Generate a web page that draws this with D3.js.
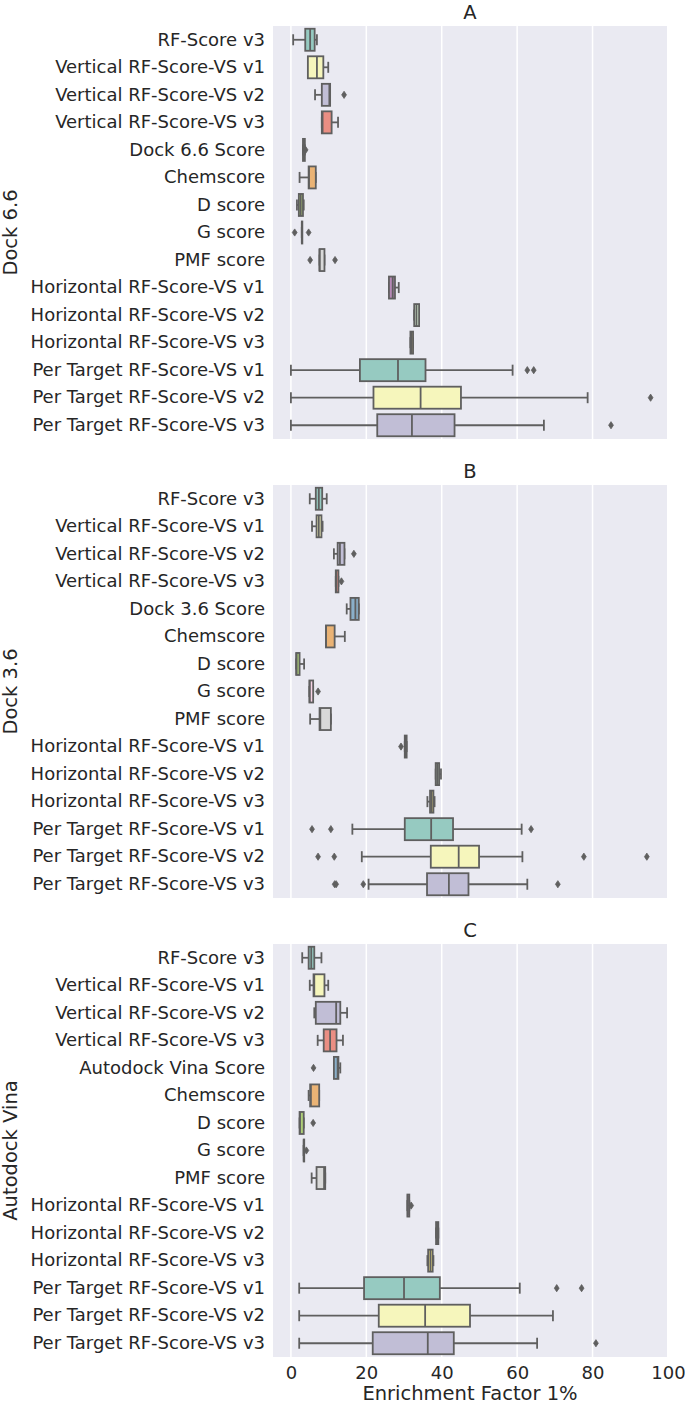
<!DOCTYPE html>
<html lang="en">
<head>
<meta charset="UTF-8">
<title>Enrichment Factor 1%</title>
<style>
  body { margin: 0; background: #fff; }
  svg text { font-family: "DejaVu Sans", sans-serif; fill: #262626; }
</style>
</head>
<body>
<svg id="chart" width="685" height="1405"></svg>
<script src="https://d3js.org/d3.v7.min.js"></script>
<script>
// row labels of each panel
const labelsA = ["RF-Score v3", "Vertical RF-Score-VS v1", "Vertical RF-Score-VS v2", "Vertical RF-Score-VS v3",
  "Dock 6.6 Score", "Chemscore", "D score", "G score", "PMF score",
  "Horizontal RF-Score-VS v1", "Horizontal RF-Score-VS v2", "Horizontal RF-Score-VS v3",
  "Per Target RF-Score-VS v1", "Per Target RF-Score-VS v2", "Per Target RF-Score-VS v3"];
const labelsB = labelsA.map(d => d == "Dock 6.6 Score" ? "Dock 3.6 Score" : d);
const labelsC = labelsA.map(d => d == "Dock 6.6 Score" ? "Autodock Vina Score" : d);

// [whisker low, q1, median, q3, whisker high]
const statsA = [
  [0.6, 3.8, 5.1, 6.3, 6.9], [4.5, 4.5, 6.9, 8.6, 9.9], [6.4, 8.2, 10.2, 10.4, 10.4], [8.2, 8.2, 8.4, 10.8, 12.5],
  [3.2, 3.2, 3.5, 3.7, 3.7], [2.3, 4.7, 4.8, 6.6, 6.6], [1.6, 2.1, 2.6, 3.2, 3.4], [2.9, 2.9, 2.9, 2.9, 2.9],
  [7.6, 7.6, 7.6, 8.9, 8.9], [26.0, 26.0, 27.0, 27.6, 28.6], [32.7, 32.7, 33.3, 34.0, 34.0], [31.7, 31.7, 32.0, 32.4, 32.4],
  [0, 18.3, 28.4, 35.7, 58.8], [0, 21.9, 34.4, 45.1, 78.7], [0, 22.9, 32.1, 43.4, 67.1]
];
const fliersA = [[], [], [14.1], [], [3.9], [], [], [1.0, 4.7], [5.1, 11.7], [], [], [], [62.7, 64.4], [95.4], [84.9]];

const statsB = [
  [5.0, 6.6, 7.4, 8.3, 9.5], [5.6, 6.8, 7.4, 8.1, 8.4], [11.4, 12.4, 13.0, 14.2, 14.2], [11.9, 11.9, 12.0, 12.6, 12.6],
  [14.8, 15.8, 17.1, 18.0, 18.0], [9.3, 9.3, 9.3, 11.6, 14.3], [1.4, 1.4, 1.5, 2.3, 3.5], [4.9, 4.9, 5.0, 5.9, 5.9],
  [5.1, 7.6, 7.8, 10.6, 10.6], [30.2, 30.2, 30.5, 30.7, 30.7], [38.4, 38.4, 38.8, 39.3, 39.8], [36.2, 36.9, 37.3, 37.8, 38.1],
  [16.3, 30.2, 37.2, 43.0, 61.2], [18.8, 37.1, 44.5, 49.9, 61.4], [20.6, 36.1, 41.9, 47.1, 62.7]
];
const fliersB = [[], [], [16.7], [13.4], [], [], [], [7.2], [], [29.2], [], [], [5.6, 10.6, 63.7], [7.2, 11.5, 77.7, 94.4], [11.6, 12.0, 19.2, 70.8]];

const statsC = [
  [3.0, 4.7, 5.4, 6.2, 8.1], [5.0, 6.0, 6.2, 8.9, 9.9], [6.2, 6.6, 12.0, 13.1, 14.9], [7.1, 8.7, 10.4, 12.1, 13.8],
  [11.4, 11.4, 12.4, 12.6, 13.1], [4.7, 5.1, 5.3, 7.5, 7.5], [2.3, 2.3, 2.4, 3.4, 3.4], [3.4, 3.4, 3.4, 3.4, 3.4],
  [5.5, 6.8, 8.8, 9.1, 9.1], [30.9, 30.9, 31.0, 31.4, 31.4], [38.5, 38.5, 38.8, 39.1, 39.1], [36.2, 36.4, 37.0, 37.6, 37.8],
  [2.2, 19.4, 30.0, 39.5, 60.7], [2.2, 23.3, 35.6, 47.5, 69.5], [2.2, 21.7, 36.3, 43.2, 65.3]
];
const fliersC = [[], [], [], [], [6.0], [], [5.9], [4.1], [], [31.9], [], [], [70.5, 77.1], [], [80.9]];

const xTicks = [0, 20, 40, 60, 80, 100];
const set3 = ["#8dd3c7", "#ffffb3", "#bebada", "#fb8072", "#80b1d3", "#fdb462", "#b3de69",
  "#fccde5", "#d9d9d9", "#bc80bd", "#ccebc5", "#ffed6f"];

const panels = [
  {title: "A", group: "Dock 6.6", labels: labelsA, stats: statsA, fliers: fliersA, top: 26},
  {title: "B", group: "Dock 3.6", labels: labelsB, stats: statsB, fliers: fliersB, top: 485},
  {title: "C", group: "Autodock Vina", labels: labelsC, stats: statsC, fliers: fliersC, top: 944}
];

const svg = d3.select("#chart");
const left = 273, right = 667, plotH = 413;
const gray = "#5f5f5f";

const x = d3.scaleLinear().domain([-4.75, 99.75]).range([left, right]);

// seaborn style: desaturate the palette to 75%
function desat(c) {
  const h = d3.hsl(c);
  h.s *= 0.75;
  return h.formatHex();
}

panels.forEach((p, pi) => {
  const y = d3.scaleBand().domain(d3.range(p.labels.length)).range([p.top, p.top + plotH]);
  const bh = y.bandwidth() * 0.8;
  const g = svg.append("g");

  g.append("rect").attr("x", left).attr("y", p.top).attr("width", right - left).attr("height", plotH)
    .attr("fill", "#eaeaf2");

  g.selectAll(".grid").data(xTicks).join("line")
    .attr("x1", d => x(d)).attr("x2", d => x(d))
    .attr("y1", p.top).attr("y2", p.top + plotH)
    .attr("stroke", "#fff").attr("stroke-width", 1.5);

  g.append("text").attr("x", (left + right) / 2).attr("y", p.top - 7)
    .attr("text-anchor", "middle").attr("font-size", 19.5).text(p.title);

  g.append("text").attr("transform", `translate(17,${p.top + plotH / 2}) rotate(-90)`)
    .attr("text-anchor", "middle").attr("font-size", 19.5).text(p.group);

  // y tick labels
  g.append("g").attr("transform", `translate(${left},0)`)
    .call(d3.axisLeft(y).tickSize(0).tickPadding(8).tickFormat(i => p.labels[i]))
    .call(a => a.select(".domain").remove())
    .selectAll("text").attr("font-size", 18).attr("font-family", "DejaVu Sans").attr("fill", "#262626");

  const rows = g.selectAll(".row").data(p.stats).join("g")
    .attr("transform", (d, i) => `translate(0,${y(i) + y.bandwidth() / 2})`);

  rows.append("line") // lower whisker
    .attr("x1", d => x(d[0])).attr("x2", d => x(d[1])).attr("stroke", gray).attr("stroke-width", 1.8);
  rows.append("line") // upper whisker
    .attr("x1", d => x(d[3])).attr("x2", d => x(d[4])).attr("stroke", gray).attr("stroke-width", 1.8);
  rows.append("line") // caps
    .attr("x1", d => x(d[0])).attr("x2", d => x(d[0])).attr("y1", -bh / 4).attr("y2", bh / 4)
    .attr("stroke", gray).attr("stroke-width", 1.8);
  rows.append("line")
    .attr("x1", d => x(d[4])).attr("x2", d => x(d[4])).attr("y1", -bh / 4).attr("y2", bh / 4)
    .attr("stroke", gray).attr("stroke-width", 1.8);
  rows.append("rect")
    .attr("x", d => x(d[1])).attr("width", d => Math.max(x(d[3]) - x(d[1]), 0.5))
    .attr("y", -bh / 2).attr("height", bh)
    .attr("fill", (d, i) => desat(set3[i % set3.length]))
    .attr("stroke", gray).attr("stroke-width", 1.8);
  rows.append("line") // median
    .attr("x1", d => x(d[2])).attr("x2", d => x(d[2])).attr("y1", -bh / 2).attr("y2", bh / 2)
    .attr("stroke", gray).attr("stroke-width", 1.8);

  rows.each(function(d, i) {
    d3.select(this).selectAll("path").data(p.fliers[i]).join("path")
      .attr("transform", v => `translate(${x(v)},0)`)
      .attr("d", "M0,-3.6L2.4,0L0,3.6L-2.4,0Z")
      .attr("fill", gray).attr("stroke", gray).attr("stroke-width", 0.8);
  });

  if (pi == panels.length - 1) {
    g.append("g").attr("transform", `translate(0,${p.top + plotH})`)
      .call(d3.axisBottom(x).tickValues(xTicks).tickSize(0).tickPadding(9))
      .call(a => a.select(".domain").remove())
      .selectAll("text").attr("font-size", 18).attr("font-family", "DejaVu Sans").attr("fill", "#262626");
    g.append("text").attr("x", (left + right) / 2).attr("y", 1400)
      .attr("text-anchor", "middle").attr("font-size", 19.5).text("Enrichment Factor 1%");
  }
});
</script>
</body>
</html>
